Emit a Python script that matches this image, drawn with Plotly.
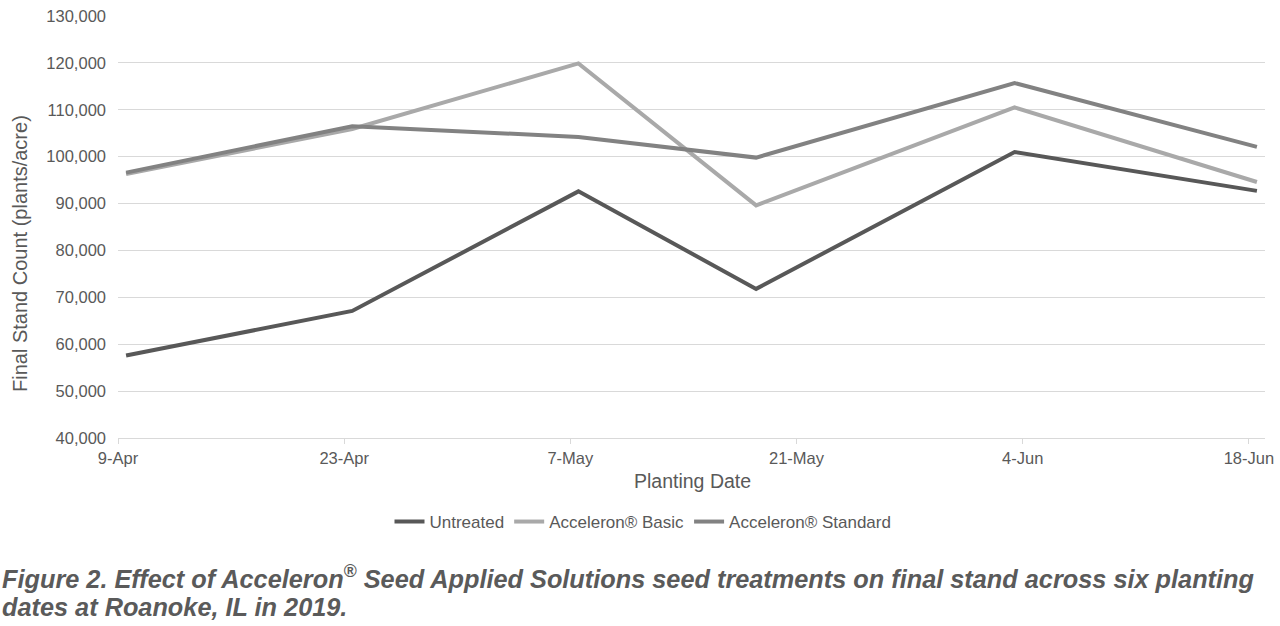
import plotly.graph_objects as go

# ---- data ----
planting_dates = ["2019-04-09 12:00", "2019-04-23 12:00", "2019-05-07 12:00",
                  "2019-05-18 12:00", "2019-06-03 12:00", "2019-06-18 12:00"]
untreated = [57600, 67100, 92600, 71800, 101000, 92700]
acceleron_basic = [96300, 105900, 119900, 89600, 110500, 94600]
acceleron_standard = [96600, 106500, 104200, 99800, 115700, 102100]

series_names = ["Untreated", "Acceleron® Basic", "Acceleron® Standard"]
series_values = [untreated, acceleron_basic, acceleron_standard]
series_colors = ["#585858", "#a9a9a9", "#828282"]

y_title = "Final Stand Count (plants/acre)"
x_title = "Planting Date"
caption_1 = "Figure 2. Effect of Acceleron<sup>®</sup> Seed Applied Solutions seed treatments on final stand across six planting"
caption_2 = "dates at Roanoke, IL in 2019."

# ---- layout constants (pixels) ----
W, H = 1280, 626
L, R, T, B = 118, 15, 16, 188
PW, PH = W - L - R, H - T - B


def px(xpix):
    return (xpix - L) / PW


def py(ypix):
    return (H - B - ypix) / PH


fig = go.Figure()
for name, vals, col in zip(series_names, series_values, series_colors):
    fig.add_trace(go.Scatter(
        x=planting_dates, y=vals, name=name, mode="lines",
        line=dict(color=col, width=4),
    ))

font_family = "Liberation Sans, Arial, sans-serif"
fig.update_layout(
    width=W, height=H,
    margin=dict(l=L, r=R, t=T, b=B, autoexpand=False),
    paper_bgcolor="white", plot_bgcolor="white",
    font=dict(family=font_family, color="#595959", size=16),
    showlegend=True,
    legend=dict(orientation="h", x=px(643), xanchor="center",
                y=py(522), yanchor="middle",
                font=dict(size=17, color="#595959"),
                tracegroupgap=0),
    xaxis=dict(
        type="date",
        range=["2019-04-09", "2019-06-19"],
        tick0="2019-04-09", dtick=14 * 86400000,
        tickformat="%-d-%b",
        showgrid=False,
        showline=True, linecolor="#d9d9d9", linewidth=1,
        ticks="outside", ticklen=5, tickcolor="#d9d9d9",
        tickfont=dict(size=16.5, color="#595959"),
        zeroline=False, automargin=False,
    ),
    yaxis=dict(
        range=[40000, 130000], dtick=10000,
        tickformat=",d",
        showgrid=True, gridcolor="#d9d9d9", gridwidth=1,
        showline=False, zeroline=False,
        ticks="", ticklabelstandoff=11,
        tickfont=dict(size=16.5, color="#595959"),
        automargin=False,
    ),
    annotations=[
        dict(text=y_title, textangle=-90, xref="paper", yref="paper",
             x=px(20), y=py(254), xanchor="center", yanchor="middle",
             showarrow=False, font=dict(size=20, color="#595959")),
        dict(text=x_title, xref="paper", yref="paper",
             x=px(692), y=py(481), xanchor="center", yanchor="middle",
             showarrow=False, font=dict(size=19.5, color="#595959")),
        dict(text="<b><i>" + caption_1 + "</i></b>", xref="paper", yref="paper",
             x=px(0), y=py(577), xanchor="left", yanchor="middle",
             showarrow=False, font=dict(size=25.3, color="#5a5a5a")),
        dict(text="<b><i>" + caption_2 + "</i></b>", xref="paper", yref="paper",
             x=px(0), y=py(607), xanchor="left", yanchor="middle",
             showarrow=False, font=dict(size=25.3, color="#5a5a5a")),
    ],
)

fig.write_html("out.html",
               config={"displayModeBar": False},
               post_script="document.body.style.margin='0';document.body.style.overflow='hidden';")
